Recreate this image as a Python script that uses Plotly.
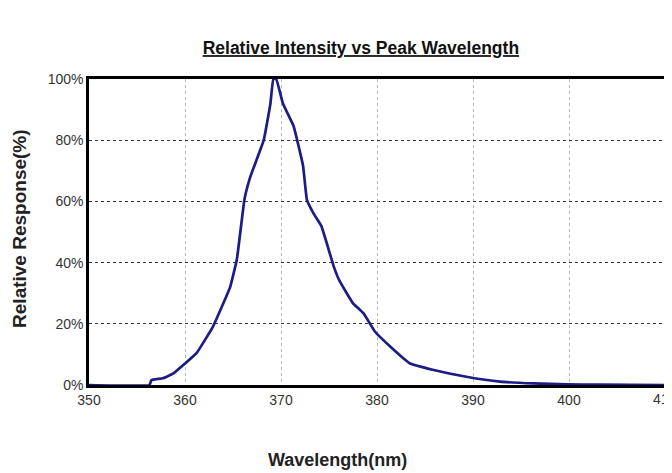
import plotly.graph_objects as go

wavelength = [350, 356.3, 356.5, 357.7, 358.8, 360.0, 361.2, 362.9, 364.7, 365.4, 366.2, 366.8,
              368.2, 368.9, 369.2, 369.5, 370.2, 371.3, 372.3, 372.7, 373.4, 374.2, 375.5,
              376.1, 377.5, 378.6, 379.8, 381.4, 383.4, 385.9, 389.3, 392.8, 396.3, 399.8,
              403.2, 410]
response = [0, 0, 1.6, 2.2, 3.8, 7.0, 10.4, 19.0, 32.0, 41.0, 60.8, 68.0,
            80.0, 92.0, 100.0, 100.0, 92.0, 84.7, 71.6, 60.5, 56.0, 52.0, 38.7,
            34.0, 26.7, 23.4, 17.4, 12.5, 7.1, 4.9, 2.7, 1.1, 0.5, 0.2,
            0.1, 0]

x_ticks = [350, 360, 370, 380, 390, 400, 410]
y_ticks = [0, 20, 40, 60, 80, 100]
y_tick_labels = ["0%", "20%", "40%", "60%", "80%", "100%"]

FONT = "Liberation Sans Narrow, Liberation Sans, Arial, sans-serif"

fig = go.Figure()
fig.add_trace(go.Scatter(
    x=wavelength, y=response, mode="lines",
    line=dict(color="#1c1c84", width=2.7, shape="spline", smoothing=0.3),
    hoverinfo="skip", showlegend=False,
))

fig.update_layout(
    width=664, height=465,
    margin=dict(l=81, r=7, t=71, b=88),
    paper_bgcolor="white", plot_bgcolor="white",
    font=dict(family=FONT, color="#333333", size=14),
    title=dict(text="<b><u>Relative Intensity vs Peak Wavelength</u></b>",
               x=0.472, xanchor="center", xref="paper", yref="container",
               y=0.914, yanchor="middle",
               font=dict(size=17.5, color="#111111", family=FONT)),
    showlegend=False,
    annotations=[
        dict(text="<b>Wavelength(nm)</b>", xref="paper", yref="paper", x=0.432, y=0,
             xanchor="center", yanchor="middle", yshift=-75, showarrow=False,
             font=dict(size=18, color="#222222", family=FONT)),
        dict(text="<b>Relative Response(%)</b>", xref="paper", yref="paper", x=0, y=0.51,
             xanchor="center", yanchor="middle", xshift=-69, textangle=-90, showarrow=False,
             font=dict(size=19, color="#222222", family=FONT)),
        dict(text=str(x_ticks[-1]), xref="x", yref="paper", x=x_ticks[-1], y=0,
             xanchor="center", yanchor="top", yshift=-4, showarrow=False,
             font=dict(size=14, color="#333333", family=FONT)),
    ],
)

fig.update_xaxes(
    range=[350, 410], tickvals=x_ticks, ticktext=[str(v) for v in x_ticks],
    showgrid=True, gridcolor="#b8b8b8", griddash="dot", gridwidth=1,
    showline=True, linecolor="black", linewidth=2.5, mirror=True,
    ticks="", zeroline=False, automargin=False,
    tickfont=dict(size=14, color="#333333"),
)
fig.update_yaxes(
    range=[0, 100], tickvals=y_ticks, ticktext=y_tick_labels,
    showgrid=True, gridcolor="#333333", griddash="dot", gridwidth=1,
    showline=True, linecolor="black", linewidth=2.5, mirror=True,
    ticks="", zeroline=False, automargin=False,
    tickfont=dict(size=14, color="#333333"),
)

fig.write_html("out.html")
